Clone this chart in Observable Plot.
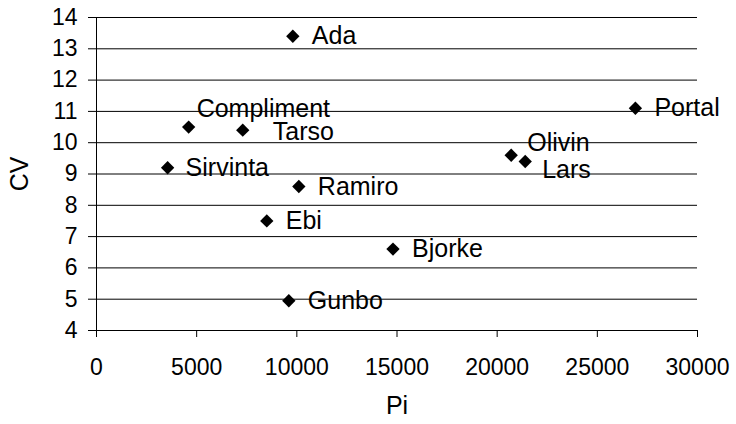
<!DOCTYPE html>
<html>
<head>
<meta charset="utf-8">
<script src="https://cdn.jsdelivr.net/npm/d3@7"></script>
<script src="https://cdn.jsdelivr.net/npm/@observablehq/plot@0.6"></script>
<style>
  html, body { margin: 0; padding: 0; background: #fff; }
  #chart { width: 736px; height: 424px; }
  svg { font-family: "Liberation Sans", Arial, sans-serif; }
</style>
</head>
<body>
<div id="chart"></div>
<script>
// Data
const names = ["Ada", "Compliment", "Tarso", "Sirvinta", "Ramiro", "Ebi", "Bjorke", "Gunbo", "Olivin", "Lars", "Portal"];
const piValues = [9800, 4600, 7300, 3550, 10100, 8500, 14800, 9600, 20700, 21400, 26900];
const cvValues = [13.4, 10.5, 10.4, 9.2, 8.6, 7.5, 6.6, 4.95, 9.6, 9.4, 11.1];
const xTicks = [0, 5000, 10000, 15000, 20000, 25000, 30000];
const yTicks = [4, 5, 6, 7, 8, 9, 10, 11, 12, 13, 14];

const data = names.map((n, i) => ({name: n, pi: piValues[i], cv: cvValues[i]}));

// Label placement (layout only)
const defaultNudge = {dx: 19, dy: 0};
const nudges = {
  Compliment: {dx: 8, dy: -18},
  Tarso: {dx: 30, dy: 2},
  Sirvinta: {dx: 18, dy: 0},
  Olivin: {dx: 16, dy: -12},
  Lars: {dx: 17, dy: 9}
};

const font = "\"Liberation Sans\", Arial, sans-serif";

const labelMarks = data.map(d => {
  const nd = nudges[d.name] || defaultNudge;
  return Plot.text([d], {
    x: "pi", y: "cv", text: "name",
    textAnchor: "start", dx: nd.dx, dy: nd.dy,
    fontSize: 25, fill: "black"
  });
});

const chart = Plot.plot({
  width: 736,
  height: 424,
  marginLeft: 96,
  marginRight: 39,
  marginTop: 17,
  marginBottom: 94,
  style: {fontFamily: font, background: "white", overflow: "visible"},
  x: {domain: [0, 30000]},
  y: {domain: [4, 14]},
  marks: [
    Plot.ruleY(yTicks, {stroke: "black", strokeWidth: 1}),
    Plot.ruleX([0], {stroke: "black", strokeWidth: 1, y1: 14, y2: 4, insetBottom: -7}),
    Plot.axisY(yTicks, {
      tickSize: 8, tickPadding: 11, fontSize: 23, label: null,
      tickFormat: d => String(d), stroke: "black"
    }),
    Plot.axisX(xTicks, {
      tickSize: 7, tickPadding: 21, fontSize: 23, label: null,
      tickFormat: d => String(d), stroke: "black"
    }),
    Plot.dot(data, {x: "pi", y: "cv", symbol: "diamond2", r: 6, fill: "black", stroke: "none"}),
    ...labelMarks,
    Plot.text(["CV"], {frameAnchor: "left", rotate: -90, dx: -77, textAnchor: "middle", lineAnchor: "middle", fontSize: 25, fill: "black"}),
    Plot.text(["Pi"], {frameAnchor: "bottom", dy: 75, textAnchor: "middle", lineAnchor: "middle", fontSize: 25, fill: "black"})
  ]
});

document.getElementById("chart").appendChild(chart);
</script>
</body>
</html>
